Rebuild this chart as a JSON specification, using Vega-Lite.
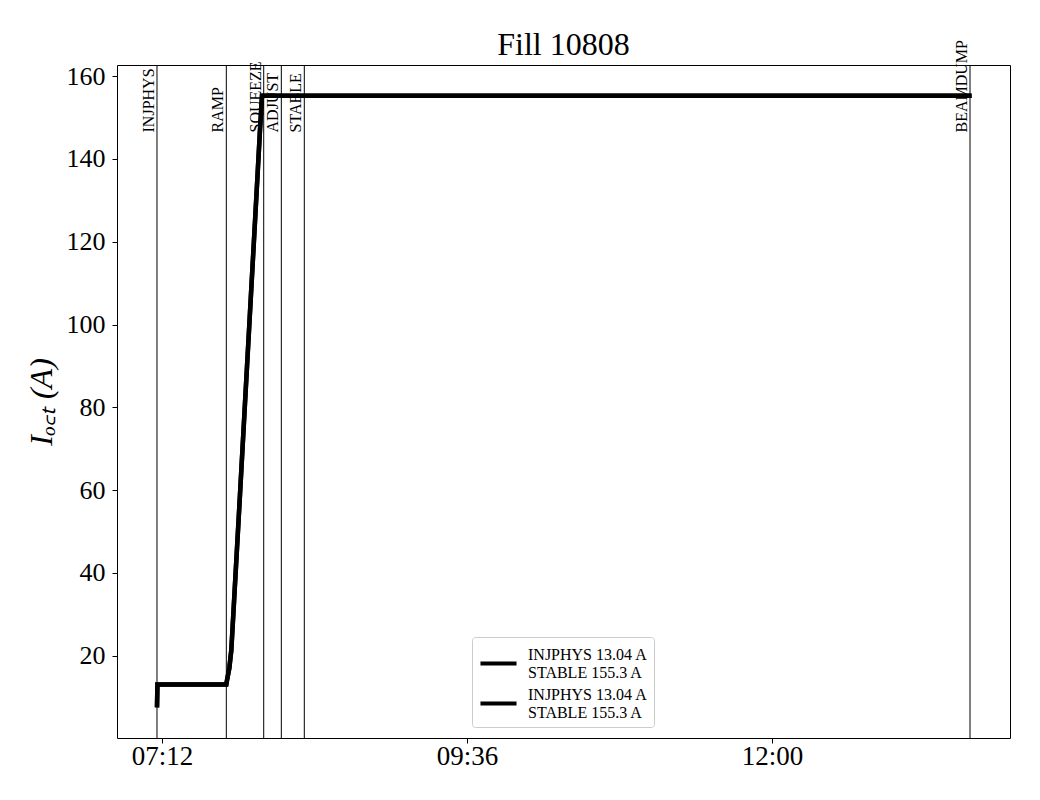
{
  "$schema": "https://vega.github.io/schema/vega-lite/v6.json",
  "autosize": {"type": "none"},
  "padding": {"left": 117, "top": 65, "right": 30, "bottom": 62},
  "width": 893,
  "height": 673,
  "background": "white",
  "title": {"text": "Fill 10808", "frame": "group", "anchor": "middle", "offset": -22, "fontSize": 32, "font": "Liberation Serif", "fontWeight": "normal", "color": "black"},
  "config": {
    "view": {"stroke": "black", "strokeWidth": 1},
    "font": "Liberation Serif",
    "axis": {"labelFont": "Liberation Serif", "titleFont": "Liberation Serif", "labelColor": "black", "titleColor": "black", "domain": false, "grid": false, "tickColor": "black", "tickSize": 5, "labelFontSize": 26, "titleFontWeight": "normal"}
  },
  "datasets": {
    "current": [
      {"t": "2025-06-10T07:09:38", "I": 7.5},
      {"t": "2025-06-10T07:09:50", "I": 13.04},
      {"t": "2025-06-10T07:42:22", "I": 13.04},
      {"t": "2025-06-10T07:42:41", "I": 14},
      {"t": "2025-06-10T07:43:47", "I": 17},
      {"t": "2025-06-10T07:44:43", "I": 21.3},
      {"t": "2025-06-10T07:46:00", "I": 33},
      {"t": "2025-06-10T07:48:50", "I": 59},
      {"t": "2025-06-10T07:51:11", "I": 81},
      {"t": "2025-06-10T07:53:33", "I": 103},
      {"t": "2025-06-10T07:55:55", "I": 125},
      {"t": "2025-06-10T07:58:16", "I": 147},
      {"t": "2025-06-10T07:59:13", "I": 155.3},
      {"t": "2025-06-10T13:34:15", "I": 155.3}
    ],
    "modes": [
      {"mode": "INJPHYS", "t": "2025-06-10T07:09:38"},
      {"mode": "RAMP", "t": "2025-06-10T07:42:22"},
      {"mode": "SQUEEZE", "t": "2025-06-10T08:00:01"},
      {"mode": "ADJUST", "t": "2025-06-10T08:08:20"},
      {"mode": "STABLE", "t": "2025-06-10T08:19:11"},
      {"mode": "BEAMDUMP", "t": "2025-06-10T13:33:30"}
    ]
  },
  "encoding": {
    "x": {
      "field": "t", "type": "temporal",
      "scale": {"domain": [{"year": 2025, "month": 6, "date": 10, "hours": 6, "minutes": 50, "seconds": 45}, {"year": 2025, "month": 6, "date": 10, "hours": 13, "minutes": 52, "seconds": 23}]},
      "axis": {"title": null, "format": "%H:%M", "labelPadding": 0, "labelFontSize": 27,
        "values": [{"year": 2025, "month": 6, "date": 10, "hours": 7, "minutes": 12}, {"year": 2025, "month": 6, "date": 10, "hours": 9, "minutes": 36}, {"year": 2025, "month": 6, "date": 10, "hours": 12, "minutes": 0}]}
    }
  },
  "layer": [
    {
      "data": {"name": "modes"},
      "mark": {"type": "rule", "color": "black", "strokeWidth": 1},
      "encoding": {}
    },
    {
      "data": {"name": "modes"},
      "mark": {"type": "text", "angle": 270, "align": "left", "baseline": "bottom", "fontSize": 16, "font": "Liberation Serif", "color": "black", "clip": false},
      "encoding": {
        "y": {"datum": 146.4, "type": "quantitative"},
        "text": {"field": "mode"}
      }
    },
    {
      "data": {"name": "current"},
      "mark": {"type": "line", "strokeWidth": 4.5, "interpolate": "linear"},
      "encoding": {
        "y": {"field": "I", "type": "quantitative"},
        "color": {"datum": "A"}
      }
    },
    {
      "data": {"name": "current"},
      "mark": {"type": "line", "strokeWidth": 4.5, "interpolate": "linear"},
      "encoding": {
        "y": {
          "field": "I", "type": "quantitative",
          "scale": {"domain": [0.1, 162.7], "nice": false, "zero": false},
          "axis": {"title": "Iₒ꜀ₜ (A)", "titleFontSize": 32, "titleFontStyle": "italic", "titlePadding": 8, "values": [20, 40, 60, 80, 100, 120, 140, 160], "labelPadding": 7}
        },
        "color": {
          "datum": "B",
          "scale": {"domain": ["A", "B"], "range": ["black", "black"]},
          "legend": {
            "title": null, "orient": "none", "legendX": 355, "legendY": 572,
            "symbolType": "stroke", "symbolSize": 1300, "symbolStrokeWidth": 4, "symbolStrokeColor": "black",
            "labelFont": "Liberation Serif", "labelFontSize": 16, "labelColor": "black", "labelLimit": 300,
            "labelExpr": "['INJPHYS 13.04 A', 'STABLE 155.3 A']",
            "rowPadding": 2, "padding": 6, "strokeColor": "#cccccc", "fillColor": "white", "cornerRadius": 3, "labelOffset": 9,
            "encode": {"labels": {"update": {"dy": {"value": -9}}}}
          }
        }
      }
    }
  ]
}
